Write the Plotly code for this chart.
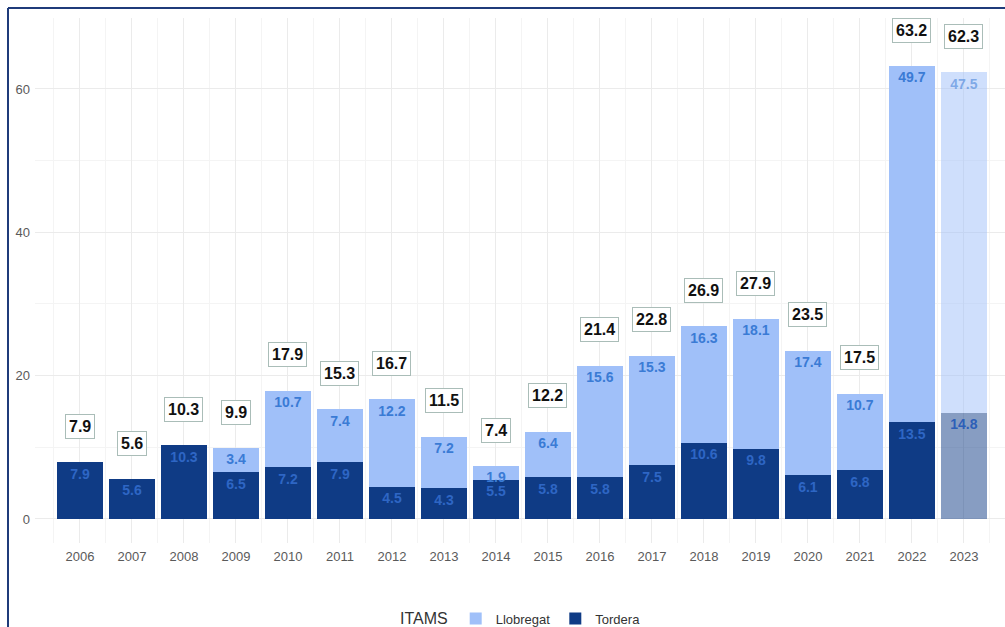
import plotly.graph_objects as go

years = list(range(2006, 2024))
tordera = [7.9, 5.6, 10.3, 6.5, 7.2, 7.9, 4.5, 4.3, 5.5, 5.8, 5.8, 7.5, 10.6, 9.8, 6.1, 6.8, 13.5, 14.8]
llobregat = [0, 0, 0, 3.4, 10.7, 7.4, 12.2, 7.2, 1.9, 6.4, 15.6, 15.3, 16.3, 18.1, 17.4, 10.7, 49.7, 47.5]
totals = [7.9, 5.6, 10.3, 9.9, 17.9, 15.3, 16.7, 11.5, 7.4, 12.2, 21.4, 22.8, 26.9, 27.9, 23.5, 17.5, 63.2, 62.3]
y_ticks = [0, 20, 40, 60]

LLOB = "#a0c0f9"
LLOB_F = "rgba(160,192,249,0.5)"
TORD = "#0f3b85"
TORD_F = "rgba(15,59,133,0.5)"
LAB = "#3a7bd5"
LAB_T = "#2e66c4"

last = len(years) - 1
tord_cols = [TORD_F if i == last else TORD for i in range(len(years))]
llob_cols = [LLOB_F if i == last else LLOB for i in range(len(years))]

fig = go.Figure()
fig.add_trace(go.Bar(x=years, y=tordera, name="Tordera", marker=dict(color=tord_cols, line=dict(width=0)),
                     width=0.9, legendrank=2, hoverinfo="skip"))
fig.add_trace(go.Bar(x=years, y=llobregat, name="Llobregat", marker=dict(color=llob_cols, line=dict(width=0)),
                     width=0.9, legendrank=1, hoverinfo="skip"))

# segment value labels near the top of each segment
t_y = [v - 1.8 for v in tordera]
t_col = ["#2d5fb8" if i == last else LAB_T for i in range(len(years))]
fig.add_trace(go.Scatter(x=years, y=t_y, mode="text", text=[f"{v:.1f}" for v in tordera],
                         textfont=dict(family="Liberation Sans, Arial", size=14, color=t_col, weight="bold"),
                         showlegend=False, hoverinfo="skip"))
lx, ly, lt, lc = [], [], [], []
for i, (yr, a, b) in enumerate(zip(years, tordera, llobregat)):
    if b > 0:
        lx.append(yr)
        ly.append(a + b - 1.8)
        lt.append(f"{b:.1f}")
        lc.append("rgba(58,123,213,0.55)" if i == last else LAB)
fig.add_trace(go.Scatter(x=lx, y=ly, mode="text", text=lt,
                         textfont=dict(family="Liberation Sans, Arial", size=14, color=lc, weight="bold"),
                         showlegend=False, hoverinfo="skip"))

annotations = []
for yr, tot in zip(years, totals):
    annotations.append(dict(x=yr, y=tot + 5, xref="x", yref="y", text=f"<b>{tot:.1f}</b>", showarrow=False,
                            font=dict(family="Liberation Sans, Arial", size=16, color="#111111"),
                            bgcolor="white", bordercolor="#aabdb8", borderwidth=1, borderpad=3))

# frame lines
W, H = 1005, 627
ml, mr, mt, mb = 35, 0, 18, 84
pw, ph = W - ml - mr, H - mt - mb
def px(x):
    return (x - ml) / pw
def py(y):
    return (H - mb - y) / ph
shapes = [
    dict(type="line", xref="paper", yref="paper", x0=px(8), x1=px(8), y0=py(8), y1=py(640),
         line=dict(color="#1f3b7a", width=2)),
    dict(type="line", xref="paper", yref="paper", x0=px(8), x1=px(1010), y0=py(8), y1=py(8),
         line=dict(color="#1f3b7a", width=2)),
]

fig.update_layout(
    width=W, height=H,
    margin=dict(l=ml, r=mr, t=mt, b=mb, autoexpand=False),
    barmode="stack",
    plot_bgcolor="white", paper_bgcolor="white",
    font=dict(family="Liberation Sans, Arial", color="#4d4d4d"),
    annotations=annotations,
    shapes=shapes,
    legend=dict(orientation="h", x=522 / W, xanchor="center", xref="container",
                y=(H - 619) / H, yanchor="middle", yref="container",
                title=dict(text="ITAMS", font=dict(size=16, color="#333333")),
                font=dict(size=13, color="#333333"), traceorder="normal", itemwidth=30),
    xaxis=dict(range=[2005.135, 2023.79], tickvals=years, ticktext=[str(y) for y in years],
               showgrid=True, gridcolor="#ebebeb", gridwidth=1, zeroline=False,
               minor=dict(dtick=0.5, tick0=2005.5, showgrid=True, gridcolor="#f4f4f4", gridwidth=1),
               tickfont=dict(size=13, color="#5a5a5a"), ticks="", ticklabelstandoff=4),
    yaxis=dict(range=[-3.35, 69.9], tickvals=y_ticks, showgrid=True, gridcolor="#ebebeb", gridwidth=1,
               zeroline=False, minor=dict(dtick=10, tick0=0, showgrid=True, gridcolor="#f4f4f4", gridwidth=1),
               tickfont=dict(size=13, color="#5a5a5a"), ticks="", ticklabelstandoff=4),
)

fig.write_html("out.html")
